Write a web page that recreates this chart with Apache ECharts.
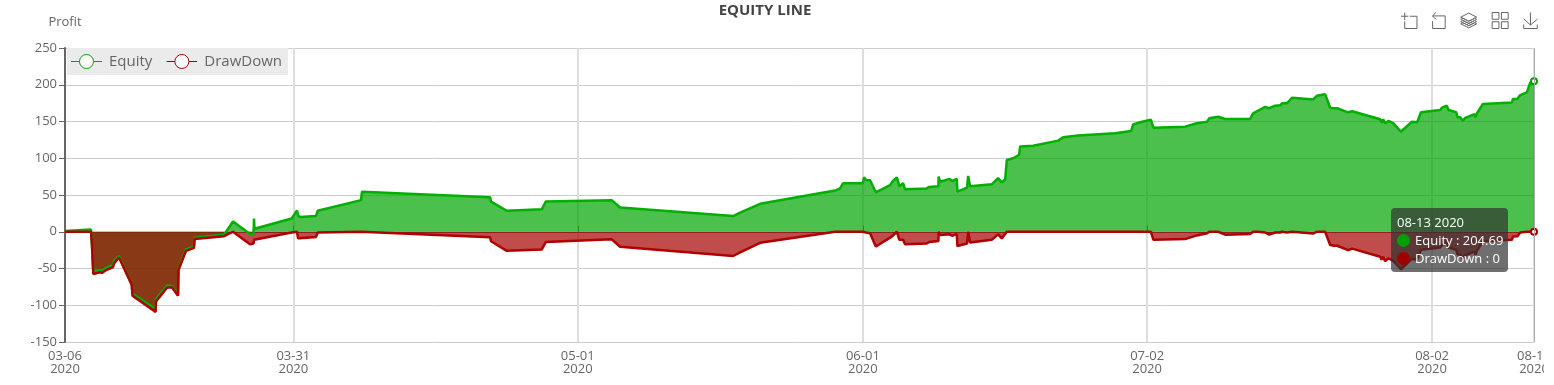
<!DOCTYPE html>
<html><head><meta charset="utf-8">
<style>html,body{margin:0;padding:0;background:#fff;overflow:hidden;width:1554px;height:385px}#c{position:absolute;left:0;top:0;width:1544px;height:385px;overflow:hidden}</style>
<script src="https://cdn.jsdelivr.net/npm/echarts@6/dist/echarts.min.js"></script>
</head><body><div id="c"></div>
<script>
const tickDays = [0,24.87,55.85,86.9,117.86,148.9,160];
const tickLabels = ['03-06\n2020','03-31\n2020','05-01\n2020','06-01\n2020','07-02\n2020','08-02\n2020','08-13\n2020'];
const lastPointLabel = '08-13 2020';
// days elapsed since the first tick
const days = [0,2.83,2.94,3.08,3.81,4.03,4.36,5.23,5.34,5.88,7.27,7.35,9.87,9.91,11.11,11.66,12.31,12.36,13.18,14.05,14.11,17.32,18.3,20.15,20.53,20.59,20.64,24.69,25.27,25.38,25.6,27.34,27.53,32.24,32.35,46.3,46.4,48.12,51.93,52.36,59.55,60.46,72.77,73.53,75.71,83.88,84.42,84.75,86.89,87.04,87.25,87.69,88.31,89.87,90.2,90.6,90.88,91.03,91.28,91.5,93.86,94.12,95.13,95.15,95.32,96.35,96.62,97.13,97.2,98.25,98.37,98.58,100.94,101.63,102.03,102.4,102.58,103.27,103.92,104.03,105.45,105.56,108.17,108.71,110.35,114.38,116.12,116.34,117.1,118.27,118.55,122,123.27,124.4,124.62,125.6,126.36,129.08,129.41,129.96,130.72,130.9,131.15,131.81,132.35,132.57,133.12,133.66,135.95,136.35,137.25,137.8,138.24,138.56,139.76,140.2,143.25,143.39,143.57,143.79,144.15,144.7,145.5,146.7,147.28,147.68,149.78,149.97,150.51,150.69,151.53,151.67,151.96,152.25,152.51,153.52,153.63,153.78,154.43,157.6,157.7,158.2,158.5,159.22,159.59,160];
const equity = [1,3,-20,-53,-52,-53,-50,-45,-40,-33,-72,-84,-105,-92,-73,-74,-85,-50,-24,-20,-8,-4,14,-3,-3,18,4,18,29,22,20,21.5,28.6,43,54.5,46.8,41,28.6,30.5,41,43,33,21.4,26,38,56,59,66,66,74,70.5,70,53.7,63.5,69.5,74,62,61,66,57.7,59,61,62,75,68,72,69,72,54.5,60,76,62,64.5,73,67,71,97.6,100,104.5,116,117,119,124,128.5,131,134,137,146,149,152.5,141.6,143,147.6,149.7,154.3,156.5,153.4,153.4,161,164.7,170,172.5,168,171.5,172,175,175,182.4,180,185,187,168.8,168,168,162.5,164,153,148.5,153,147.5,150.7,147.5,136,149.7,149,162.5,165.6,168.8,171.5,165.6,162.5,155.7,155.7,151,155,160,155.7,161,173.8,176,180.6,181,186,189.7,203,204.69];
const drawDown = [0,0,-18,-57.5,-55,-56,-53,-48,-43,-35,-72,-87,-109,-95,-76,-76,-87,-52,-26,-22,-10,-6,0,-17,-16,-11,-11,-1,0,-9,-9,-7,-1,0,0,-7.5,-13,-26,-24,-14,-10.3,-20.4,-33,-28,-15,0,0,0,0,0,-1,-2,-20,-8,-5,0,-11,-10,-11,-17,-16,-14,-12.5,0,-4.5,-3.5,-5.5,-3,-19.5,-16,0,-14.5,-11,-3.5,-9,-3,0,0,0,0,0,0,0,0,0,0,0,0,0,0,-11,-10,-5,-2,0,0,-4,-3,0,0,-1,0,-4,-1,-1,0,-1,0,-2.5,0,0,-18,-19,-19,-25,-23,-34,-38,-34,-40,-36,-40,-51,-37,-38,-24.5,-21.5,-18,-15.5,-21.5,-24.5,-31,-31,-36,-32,-27,-31,-26,-13,-11,-6.5,-6,-1,0,0,0];

const font = '"Open Sans", sans-serif';
const fmtTick = v => tickLabels[tickDays.indexOf(v)] || '';
const dot = c => '<span style="display:inline-block;width:13px;height:13px;border-radius:50%;background:' + c + ';margin-right:5px;vertical-align:-2px"></span>';
const GREEN = '#00a000', RED = '#a00000', GREEN_FILL = '#009600', RED_FILL = '#960000';
const legendIcon = c => 'image://data:image/svg+xml;charset=utf-8,' + encodeURIComponent('<svg xmlns="http://www.w3.org/2000/svg" width="62" height="36" viewBox="0 0 31 18"><line x1="0" y1="9" x2="31" y2="9" stroke="' + c + '" stroke-width="1"/><circle cx="15.5" cy="9" r="7" fill="#fff" stroke="' + c + '" stroke-width="1"/></svg>');

const chart = echarts.init(document.getElementById('c'), null, {renderer:'canvas', width:1544, height:385});
chart.setOption({
  animation:false, backgroundColor:'#fff',
  textStyle:{fontFamily:font},
  title:{text:'EQUITY LINE', left:760, textAlign:'center', top:-2, textStyle:{fontSize:15, fontWeight:'bold', color:'#444', fontFamily:font}},
  legend:{left:67, top:48, data:[{name:'Equity',icon:legendIcon(GREEN)},{name:'DrawDown',icon:legendIcon(RED)}], backgroundColor:'#ebebeb', borderRadius:0, padding:[4.5,6,4.5,4], itemGap:14, itemWidth:31, itemHeight:18,
    textStyle:{fontSize:15, color:'#666', fontFamily:font, padding:[0,0,0,2]}},
  toolbox:{right:-11, top:-5, itemSize:16, itemGap:10.5, iconStyle:{borderColor:'#666'},
    feature:{dataZoom:{xAxisIndex:0, yAxisIndex:'none'},
      magicType:{type:['stack']},
      myTiled:{show:true, title:'Tile', icon:'path://M2 2H13V13H2ZM17 2H28V13H17ZM2 17H13V28H2ZM17 17H28V28H17Z', onclick:function(){}},
      saveAsImage:{}}},
  tooltip:{trigger:'axis', alwaysShowContent:true, transitionDuration:0, position:[1391,208], backgroundColor:'rgba(50,50,50,0.7)', borderWidth:0, padding:[5,5,5,6], borderRadius:4,
    textStyle:{color:'#fff', fontSize:13, fontFamily:font}, extraCssText:'box-shadow:none;line-height:18px;',
    axisPointer:{type:'line', label:{show:false}, lineStyle:{color:'#aaa', width:1, type:'solid'}},
    formatter:ps => lastPointLabel + '<br>' + ps.map(p => dot(p.color) + p.seriesName + ' : ' + p.value[1]).join('<br>')},
  grid:{left:65, right:10, top:48, bottom:43, containLabel:false, outerBoundsMode:'none'},
  xAxis:[
    {type:'value', min:0, max:160, position:'bottom', axisLine:{show:false, onZero:false}, axisTick:{show:false, customValues:tickDays},
      axisLabel:{customValues:tickDays, formatter:fmtTick, color:'#666', fontSize:13, lineHeight:13, margin:8, hideOverlap:false, showMinLabel:true, showMaxLabel:true, fontFamily:font},
      splitLine:{show:true, lineStyle:{color:'#ddd', width:2}}},
    {type:'value', min:0, max:160, axisLine:{show:true, onZero:true, lineStyle:{color:'#666', width:1}}, axisTick:{show:true, customValues:tickDays, length:6, lineStyle:{color:'#666'}},
      axisLabel:{show:false, customValues:tickDays}, splitLine:{show:false}, axisPointer:{show:false}, triggerTooltip:false}
  ],
  yAxis:{type:'value', min:-150, max:250, interval:50, name:'Profit', nameGap:19, nameTextStyle:{color:'#666', fontSize:13, fontFamily:font},
    axisLine:{show:true, onZero:false, lineStyle:{color:'#666', width:2}}, axisTick:{show:true, length:6, lineStyle:{color:'#666'}},
    axisLabel:{color:'#666', fontSize:13, margin:8, fontFamily:font}, splitLine:{show:true, lineStyle:{color:'#ccc', width:1}}},
  series:[
    {name:'Equity', type:'line', xAxisIndex:0, showSymbol:false, symbol:'emptyCircle', symbolSize:5, color:GREEN, itemStyle:{borderWidth:1}, lineStyle:{width:2.5, color:GREEN}, areaStyle:{color:GREEN_FILL, opacity:0.7}, data:days.map((d,i)=>[d,equity[i]])},
    {name:'DrawDown', type:'line', xAxisIndex:0, showSymbol:false, symbol:'emptyCircle', symbolSize:5, color:RED, itemStyle:{borderWidth:1}, lineStyle:{width:2.5, color:RED}, areaStyle:{color:RED_FILL, opacity:0.7}, data:days.map((d,i)=>[d,drawDown[i]])}
  ]
});
chart.dispatchAction({type:'showTip', seriesIndex:0, dataIndex:days.length-1});
</script></body></html>
